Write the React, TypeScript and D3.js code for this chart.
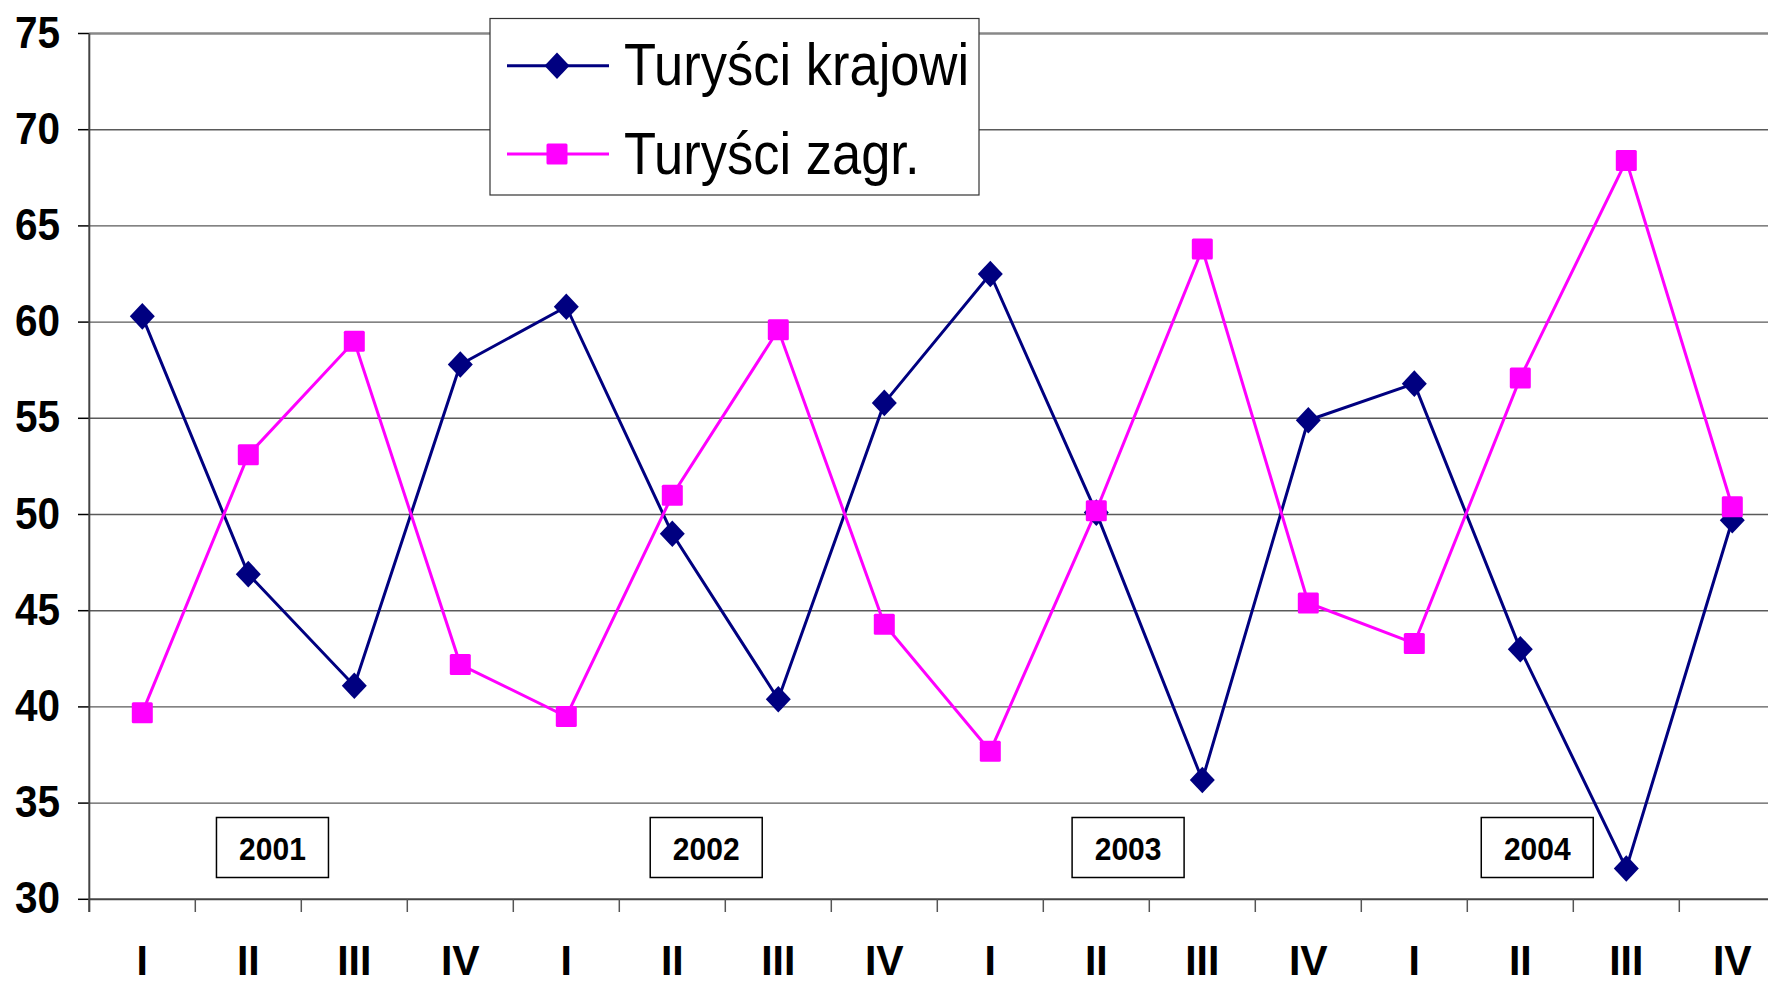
import React from "react";
import * as d3 from "d3";

const quarters = ["I", "II", "III", "IV", "I", "II", "III", "IV", "I", "II", "III", "IV", "I", "II", "III", "IV"];
const krajowi = [60.3, 46.9, 41.1, 57.8, 60.8, 49.0, 40.4, 55.8, 62.5, 50.1, 36.2, 54.9, 56.8, 43.0, 31.6, 49.7];
const zagraniczni = [39.7, 53.1, 59.0, 42.2, 39.5, 51.0, 59.6, 44.3, 37.7, 50.2, 63.8, 45.4, 43.3, 57.1, 68.4, 50.4];
const yTicks = [30, 35, 40, 45, 50, 55, 60, 65, 70, 75];
const years = ["2001", "2002", "2003", "2004"];
const yearPos = [1.728, 5.82, 9.8, 13.66];
const seriesNames = ["Turyści krajowi", "Turyści zagr."];

const W = 1768;
const H = 981;
const FONT = "'Liberation Sans', Arial, sans-serif";

export default function App() {
  const x0 = 89.3;
  const band = 106;
  const x = d3.scaleLinear().domain([0, quarters.length]).range([x0, x0 + quarters.length * band]);
  const y = d3.scaleLinear().domain([30, 75]).range([899.3, 33.5]);

  const line = d3
    .line<number>()
    .x((_, i) => x(i + 0.5))
    .y((d) => y(d));

  const diamond = "M0,-13.3L12.5,0L0,13.3L-12.5,0Z";

  return (
    <svg
      width={W}
      height={H}
      style={{ position: "absolute", left: 0, top: 0, background: "#fff" }}
      fontFamily={FONT}
    >
      <rect x={0} y={0} width={W} height={H} fill="#fff" />
      {/* gridlines */}
      {yTicks.map((t) =>
        t === 30 ? null : (
          <line
            key={"g" + t}
            x1={x0}
            x2={W}
            y1={y(t)}
            y2={y(t)}
            stroke={t === 75 ? "#888" : "#5a5a5a"}
            strokeWidth={t === 75 ? 2.5 : 1.4}
          />
        )
      )}
      {/* y ticks and labels */}
      {yTicks.map((t) => (
        <g key={"yt" + t}>
          <line x1={78} x2={x0} y1={y(t)} y2={y(t)} stroke="#000" strokeWidth={1.5} />
          <text
            transform={`translate(60,${y(t) + 14}) scale(1,1.1)`}
            textAnchor="end"
            fontWeight="bold"
            fontSize={40.5}
            fill="#000"
          >
            {t}
          </text>
        </g>
      ))}
      {/* x axis */}
      <line x1={x0} x2={W} y1={y(30)} y2={y(30)} stroke="#444" strokeWidth={2} />
      {d3.range(quarters.length + 1).map((i) => (
        <line
          key={"xt" + i}
          x1={x(i)}
          x2={x(i)}
          y1={y(30)}
          y2={912}
          stroke="#555"
          strokeWidth={1.5}
        />
      ))}
      <line x1={x0} x2={x0} y1={y(75)} y2={912} stroke="#444" strokeWidth={2} />
      {quarters.map((q, i) => (
        <text
          key={"xl" + i}
          transform={`translate(${x(i + 0.5)},975) scale(1,1.05)`}
          textAnchor="middle"
          fontWeight="bold"
          fontSize={41}
          fill="#000"
        >
          {q}
        </text>
      ))}
      {/* year boxes */}
      {years.map((yr, i) => (
        <g key={yr}>
          <rect
            x={x(yearPos[i]) - 56}
            y={817.5}
            width={112}
            height={60}
            fill="#fff"
            stroke="#000"
            strokeWidth={1.5}
          />
          <text
            transform={`translate(${x(yearPos[i])},860) scale(1,1.05)`}
            textAnchor="middle"
            fontWeight="bold"
            fontSize={30}
            fill="#000"
          >
            {yr}
          </text>
        </g>
      ))}
      {/* lines */}
      <path d={line(krajowi) || ""} fill="none" stroke="#000080" strokeWidth={3} />
      <path d={line(zagraniczni) || ""} fill="none" stroke="#FF00FF" strokeWidth={3} />
      {krajowi.map((v, i) => (
        <path key={"k" + i} d={diamond} transform={`translate(${x(i + 0.5)},${y(v)})`} fill="#000080" />
      ))}
      {zagraniczni.map((v, i) => (
        <rect
          key={"z" + i}
          x={x(i + 0.5) - 10.5}
          y={y(v) - 10.5}
          width={21}
          height={21}
          rx={1.5}
          fill="#FF00FF"
        />
      ))}
      {/* legend */}
      <rect x={490} y={18.5} width={489} height={176.5} fill="#fff" stroke="#333" strokeWidth={1.2} />
      <line x1={507} x2={609} y1={65.7} y2={65.7} stroke="#000080" strokeWidth={3} />
      <path d={diamond} transform="translate(557,65.7)" fill="#000080" />
      <text transform="translate(624,85) scale(1,1.12)" fontSize={52.5} fill="#000">
        {seriesNames[0]}
      </text>
      <line x1={507} x2={609} y1={154} y2={154} stroke="#FF00FF" strokeWidth={3} />
      <rect x={546.5} y={143.5} width={21} height={21} rx={1.5} fill="#FF00FF" />
      <text transform="translate(624,173.5) scale(1,1.12)" fontSize={52.5} fill="#000">
        {seriesNames[1]}
      </text>
    </svg>
  );
}
